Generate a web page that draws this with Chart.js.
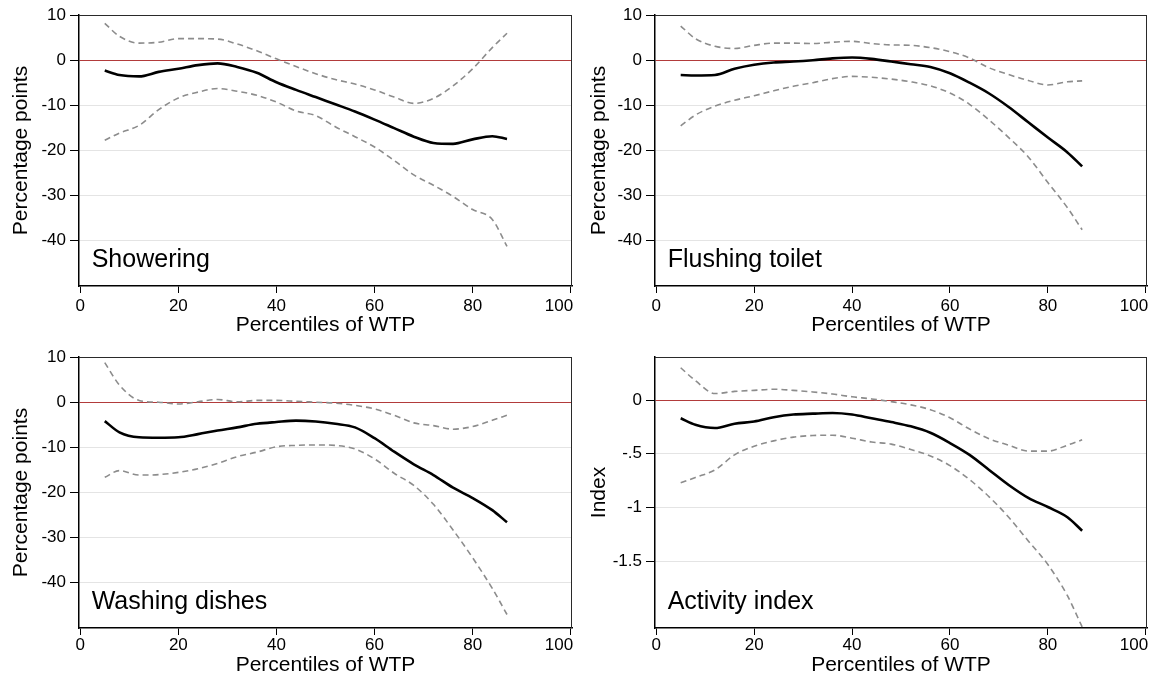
<!DOCTYPE html>
<html><head><meta charset="utf-8">
<script src="https://cdn.jsdelivr.net/npm/chart.js@4.4.1/dist/chart.umd.min.js"></script>
<style>
html,body{margin:0;padding:0;background:#fff;width:1156px;height:678px;overflow:hidden}
canvas{position:absolute}
</style></head><body>
<canvas id="c1" width="578" height="338" style="left:0;top:0"></canvas>
<canvas id="c2" width="578" height="338" style="left:578px;top:0"></canvas>
<canvas id="c3" width="578" height="340" style="left:0;top:338px"></canvas>
<canvas id="c4" width="578" height="340" style="left:578px;top:338px"></canvas>
<script>
// ---- data (percentile of WTP on x) ----
const xGrid = [5, 8, 12, 16, 20, 24, 28, 32, 36, 40, 44, 48, 52, 56, 60, 64, 68, 72, 76, 80, 84, 87];

const showerMean  = [-2.3, -3.3, -3.6, -2.6, -1.9, -1.1, -0.7, -1.5, -2.8, -4.9, -6.6, -8.2, -9.8, -11.4, -13.2, -15.1, -17.0, -18.4, -18.6, -17.6, -16.9, -17.5];
const showerUpper = [8.2, 5.3, 3.8, 4.0, 4.8, 4.8, 4.7, 3.6, 2.1, 0.3, -1.4, -3.0, -4.3, -5.3, -6.6, -8.2, -9.6, -8.5, -5.7, -1.9, 2.8, 6.0];
const showerLower = [-17.8, -16.2, -14.5, -11.0, -8.4, -7.1, -6.3, -6.9, -7.8, -9.3, -11.3, -12.3, -14.8, -17.0, -19.3, -22.3, -25.5, -27.8, -30.3, -33.2, -35.4, -41.4];

const toiletMean  = [-3.3, -3.4, -3.3, -1.9, -1.0, -0.5, -0.3, 0.0, 0.4, 0.6, 0.3, -0.3, -0.9, -1.5, -2.9, -5.0, -7.4, -10.4, -13.8, -17.2, -20.5, -23.6];
const toiletUpper = [7.6, 4.8, 3.1, 2.6, 3.3, 3.8, 3.8, 3.7, 4.0, 4.2, 3.7, 3.4, 3.3, 2.8, 1.9, 0.5, -1.7, -3.2, -4.5, -5.5, -4.8, -4.6];
const toiletLower = [-14.6, -12.2, -10.2, -8.9, -7.9, -6.8, -5.8, -5.0, -4.1, -3.6, -3.8, -4.2, -4.8, -5.7, -7.3, -9.8, -13.3, -17.2, -21.5, -27.2, -32.8, -37.7];

const dishesMean  = [-4.2, -6.7, -7.8, -7.9, -7.8, -7.1, -6.3, -5.6, -4.8, -4.4, -4.1, -4.3, -4.8, -5.6, -8.0, -11.0, -13.8, -16.2, -19.0, -21.3, -24.0, -26.7];
const dishesUpper = [8.8, 3.8, 0.4, 0.0, -0.4, 0.1, 0.6, 0.1, 0.4, 0.4, 0.2, 0.0, -0.2, -0.7, -1.5, -2.9, -4.6, -5.2, -6.0, -5.4, -4.0, -2.9];
const dishesLower = [-16.7, -15.2, -16.2, -16.1, -15.6, -14.8, -13.6, -12.1, -11.1, -9.9, -9.6, -9.5, -9.6, -10.4, -12.6, -15.8, -18.5, -22.7, -28.4, -34.6, -41.4, -47.2];

const indexMean  = [-0.17, -0.23, -0.26, -0.22, -0.20, -0.16, -0.135, -0.127, -0.121, -0.135, -0.17, -0.205, -0.245, -0.305, -0.40, -0.51, -0.65, -0.79, -0.91, -0.995, -1.09, -1.215];
const indexUpper = [0.30, 0.18, 0.06, 0.08, 0.09, 0.10, 0.09, 0.075, 0.056, 0.03, 0.01, -0.015, -0.045, -0.09, -0.165, -0.27, -0.36, -0.42, -0.475, -0.475, -0.42, -0.37];
const indexLower = [-0.77, -0.72, -0.65, -0.51, -0.43, -0.38, -0.345, -0.33, -0.327, -0.355, -0.39, -0.41, -0.46, -0.52, -0.61, -0.74, -0.90, -1.09, -1.31, -1.53, -1.82, -2.11];

// ---- ticks & labels ----
const xTicks = [0, 20, 40, 60, 80, 100];
const ppTicks = [10, 0, -10, -20, -30, -40];
const ppTickLabels = ['10', '0', '-10', '-20', '-30', '-40'];
const idxTicks = [0, -0.5, -1, -1.5];
const idxTickLabels = ['0', '-.5', '-1', '-1.5'];
const panelTitles = ['Showering', 'Flushing toilet', 'Washing dishes', 'Activity index'];
const xTitle = 'Percentiles of WTP';
const ppTitle = 'Percentage points';
const idxTitle = 'Index';

// ---- rendering ----
const FONT = '"Liberation Sans", Arial, Helvetica, sans-serif';
Chart.defaults.font.family = FONT;
Chart.defaults.color = '#000';

const framePlugin = {
  id: 'frame',
  afterDraw(chart, args, opts) {
    const {ctx, chartArea: a} = chart;
    ctx.save();
    ctx.strokeStyle = '#2a2a2a';
    ctx.lineWidth = 1;
    ctx.beginPath();
    ctx.moveTo(a.left, a.top + 0.5); ctx.lineTo(a.right, a.top + 0.5);
    ctx.moveTo(a.right - 0.5, a.top); ctx.lineTo(a.right - 0.5, a.bottom);
    ctx.stroke();
    ctx.fillStyle = '#000';
    ctx.font = '25px ' + FONT;
    ctx.textBaseline = 'alphabetic';
    ctx.textAlign = 'left';
    ctx.fillText(opts.label, a.left + 12.7, a.bottom - 19);
    ctx.restore();
  }
};

function pts(xs, ys) { return xs.map((x, i) => ({x: x, y: ys[i]})); }

function makeChart(id, p) {
  const cv = document.getElementById(id);
  const W = cv.width, H = cv.height;
  new Chart(cv, {
    type: 'line',
    data: {
      datasets: [
        {data: pts(xGrid, p.upper), borderColor: '#8c8c8c', borderWidth: 1.6, borderDash: [6, 4]},
        {data: pts(xGrid, p.lower), borderColor: '#8c8c8c', borderWidth: 1.6, borderDash: [6, 4]},
        {data: pts(xGrid, p.mean), borderColor: '#000', borderWidth: 2.6}
      ]
    },
    options: {
      responsive: false, animation: false, devicePixelRatio: 1,
      layout: {padding: {left: 0, top: p.top, right: W - p.right, bottom: 0}},
      plugins: {legend: {display: false}, tooltip: {enabled: false}, frame: {label: p.label}},
      elements: {point: {radius: 0}, line: {cubicInterpolationMode: 'monotone', fill: false}},
      scales: {
        x: {
          type: 'linear', min: -0.25, max: 100.25,
          afterBuildTicks: s => { s.ticks = xTicks.map(v => ({value: v})); },
          afterFit: s => { s.height = H - p.bottom; s.paddingLeft = 0; s.paddingRight = 0; },
          grid: {drawOnChartArea: false, tickLength: 7, tickColor: '#000', tickWidth: 1},
          border: {color: '#000', width: 1.5},
          ticks: {
            font: {size: 17}, color: '#000', padding: p.xtickPad, maxRotation: 0, minRotation: 0, autoSkip: false,
            callback: v => (v === 100 ? '100\u00a0\u00a0\u00a0\u00a0\u00a0' : String(v))
          },
          title: {display: true, text: xTitle, font: {size: 21}, color: '#000', padding: {top: 0, bottom: p.xtPad}}
        },
        y: {
          type: 'linear', min: p.ymin, max: p.ymax,
          afterBuildTicks: s => { s.ticks = p.ticks.map(v => ({value: v})); },
          afterFit: s => { s.width = p.left; s.paddingTop = 0; s.paddingBottom = 0; },
          grid: {
            color: c => (c.tick && c.tick.value === 0 ? '#b23b3b' : (c.tick && c.tick.value === p.ticks[0] && p.ticks[0] > 0 ? 'rgba(0,0,0,0)' : '#e4e4e4')),
            lineWidth: 1, tickLength: 9, tickColor: '#000', tickWidth: 1
          },
          border: {color: '#000', width: 1.5},
          ticks: {
            font: {size: 17}, color: '#000', padding: 4, autoSkip: false,
            callback: (v, i) => p.tickLabels[i]
          },
          title: {display: true, text: p.ytitle, font: {size: 21}, color: '#000', padding: {top: 8.5, bottom: 0}}
        }
      }
    },
    plugins: [framePlugin]
  });
}

makeChart('c1', {mean: showerMean, upper: showerUpper, lower: showerLower, label: panelTitles[0],
  left: 79, top: 15, right: 572, bottom: 286, ymin: -50.2, ymax: 10.05, ticks: ppTicks, tickLabels: ppTickLabels, ytitle: ppTitle, xtPad: 0, xtickPad: 3});
makeChart('c2', {mean: toiletMean, upper: toiletUpper, lower: toiletLower, label: panelTitles[1],
  left: 77, top: 15, right: 569, bottom: 286, ymin: -50.2, ymax: 10.05, ticks: ppTicks, tickLabels: ppTickLabels, ytitle: ppTitle, xtPad: 0, xtickPad: 3});
makeChart('c3', {mean: dishesMean, upper: dishesUpper, lower: dishesLower, label: panelTitles[2],
  left: 79, top: 19, right: 572, bottom: 290, ymin: -50.2, ymax: 10.05, ticks: ppTicks, tickLabels: ppTickLabels, ytitle: ppTitle, xtPad: 0, xtickPad: 0.5});
makeChart('c4', {mean: indexMean, upper: indexUpper, lower: indexLower, label: panelTitles[3],
  left: 77, top: 19, right: 569, bottom: 290, ymin: -2.12, ymax: 0.40, ticks: idxTicks, tickLabels: idxTickLabels, ytitle: idxTitle, xtPad: 0, xtickPad: 0.5});
</script>
</body></html>
